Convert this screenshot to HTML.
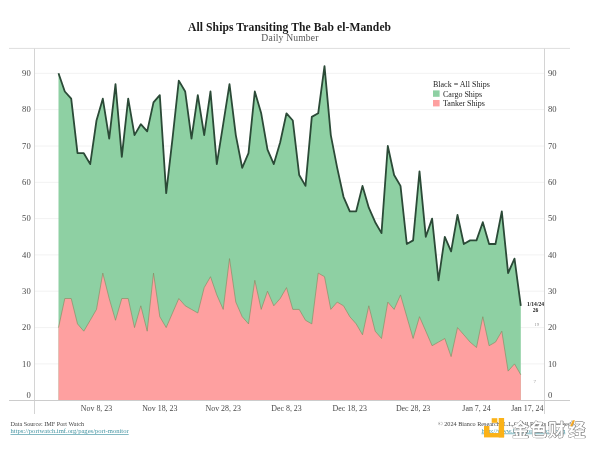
<!DOCTYPE html>
<html><head><meta charset="utf-8"><title>All Ships Transiting The Bab el-Mandeb</title>
<style>
html,body{margin:0;padding:0;background:#fff;}
body{width:600px;height:450px;overflow:hidden;position:relative;font-family:"Liberation Serif","Noto Serif CJK SC",serif;}
svg{position:absolute;left:0;top:0;}
text{font-family:"Liberation Serif","Noto Serif CJK SC",serif;}
.ax{font-size:7.9px;fill:#4a4a4a;}
.ay{font-size:8.6px;fill:#4a4a4a;}
.ttl{font-size:11.6px;font-weight:bold;fill:#1a1a1a;letter-spacing:0.08px;}
.sub{font-size:9.6px;fill:#555;letter-spacing:0.18px;}
.lg{font-size:8px;fill:#262626;}
.ft{font-size:6.2px;fill:#444;}
.lnk{font-size:6.6px;fill:#4595a3;text-decoration:underline;}
.tiny{font-size:5.6px;fill:#222;font-weight:bold;}
.tiny2{font-size:5px;fill:#9a9a9a;}
.wm{font-family:"Liberation Sans","Noto Sans CJK SC",sans-serif;font-size:17px;font-weight:bold;letter-spacing:1px;}
</style></head><body>
<svg width="600" height="450" viewBox="0 0 600 450">
<rect width="600" height="450" fill="#fff"/>
<text x="289.6" y="31.2" text-anchor="middle" class="ttl">All Ships Transiting The Bab el-Mandeb</text>
<text x="290" y="41.4" text-anchor="middle" class="sub" >Daily Number</text>
<line x1="9" x2="570" y1="48.4" y2="48.4" stroke="#dedede"/>
<line x1="34.5" x2="544.5" y1="363.9" y2="363.9" stroke="#f2f2f2" stroke-width="1"/><line x1="34.5" x2="544.5" y1="327.6" y2="327.6" stroke="#f2f2f2" stroke-width="1"/><line x1="34.5" x2="544.5" y1="291.2" y2="291.2" stroke="#f2f2f2" stroke-width="1"/><line x1="34.5" x2="544.5" y1="254.9" y2="254.9" stroke="#f2f2f2" stroke-width="1"/><line x1="34.5" x2="544.5" y1="218.6" y2="218.6" stroke="#f2f2f2" stroke-width="1"/><line x1="34.5" x2="544.5" y1="182.3" y2="182.3" stroke="#f2f2f2" stroke-width="1"/><line x1="34.5" x2="544.5" y1="146.0" y2="146.0" stroke="#f2f2f2" stroke-width="1"/><line x1="34.5" x2="544.5" y1="109.6" y2="109.6" stroke="#f2f2f2" stroke-width="1"/><line x1="34.5" x2="544.5" y1="73.3" y2="73.3" stroke="#f2f2f2" stroke-width="1"/>
<polygon points="58.5,400.2 58.5,73.3 64.8,91.5 71.2,98.7 77.5,153.2 83.8,153.2 90.2,164.1 96.5,120.5 102.8,98.7 109.2,138.7 115.5,84.2 121.8,156.9 128.2,98.7 134.5,135.1 140.8,124.2 147.2,131.4 153.5,102.4 159.8,95.1 166.2,193.2 172.5,138.7 178.8,80.6 185.2,91.5 191.5,138.7 197.8,95.1 204.2,135.1 210.5,91.5 216.8,164.1 223.2,124.2 229.5,84.2 235.8,135.1 242.2,167.8 248.5,153.2 254.8,91.5 261.2,113.3 267.5,149.6 273.8,164.1 280.2,142.3 286.5,113.3 292.8,120.5 299.2,175.0 305.5,185.9 311.8,116.9 318.2,113.3 324.5,66.1 330.8,135.1 337.2,167.8 343.5,196.8 349.8,211.3 356.2,211.3 362.5,185.9 368.8,207.7 375.2,222.2 381.5,233.1 387.8,146.0 394.1,175.0 400.5,185.9 406.8,244.0 413.1,240.4 419.5,171.4 425.8,236.8 432.1,218.6 438.5,280.3 444.8,236.8 451.1,251.3 457.5,215.0 463.8,244.0 470.1,240.4 476.5,240.4 482.8,222.2 489.1,244.0 495.5,244.0 501.8,211.3 508.1,273.1 514.5,258.6 520.8,305.8 520.8,400.2" fill="#8ed0a3"/>
<polygon points="58.5,400.2 58.5,327.6 64.8,298.5 71.2,298.5 77.5,323.9 83.8,331.2 90.2,320.3 96.5,309.4 102.8,273.1 109.2,298.5 115.5,320.3 121.8,298.5 128.2,298.5 134.5,327.6 140.8,305.8 147.2,331.2 153.5,273.1 159.8,316.7 166.2,327.6 172.5,313.0 178.8,298.5 185.2,305.8 191.5,309.4 197.8,313.0 204.2,287.6 210.5,276.7 216.8,294.9 223.2,309.4 229.5,258.6 235.8,302.1 242.2,316.7 248.5,323.9 254.8,280.3 261.2,309.4 267.5,291.2 273.8,305.8 280.2,298.5 286.5,287.6 292.8,309.4 299.2,309.4 305.5,320.3 311.8,323.9 318.2,273.1 324.5,276.7 330.8,309.4 337.2,302.1 343.5,305.8 349.8,316.7 356.2,323.9 362.5,334.8 368.8,305.8 375.2,331.2 381.5,338.5 387.8,302.1 394.1,309.4 400.5,294.9 406.8,316.7 413.1,338.5 419.5,316.7 425.8,331.2 432.1,345.7 438.5,342.1 444.8,338.5 451.1,356.6 457.5,327.6 463.8,334.8 470.1,342.1 476.5,347.5 482.8,316.7 489.1,345.7 495.5,342.1 501.8,331.2 508.1,371.1 514.5,363.9 520.8,374.8 520.8,400.2" fill="#fea0a0"/>
<polyline points="58.5,327.6 64.8,298.5 71.2,298.5 77.5,323.9 83.8,331.2 90.2,320.3 96.5,309.4 102.8,273.1 109.2,298.5 115.5,320.3 121.8,298.5 128.2,298.5 134.5,327.6 140.8,305.8 147.2,331.2 153.5,273.1 159.8,316.7 166.2,327.6 172.5,313.0 178.8,298.5 185.2,305.8 191.5,309.4 197.8,313.0 204.2,287.6 210.5,276.7 216.8,294.9 223.2,309.4 229.5,258.6 235.8,302.1 242.2,316.7 248.5,323.9 254.8,280.3 261.2,309.4 267.5,291.2 273.8,305.8 280.2,298.5 286.5,287.6 292.8,309.4 299.2,309.4 305.5,320.3 311.8,323.9 318.2,273.1 324.5,276.7 330.8,309.4 337.2,302.1 343.5,305.8 349.8,316.7 356.2,323.9 362.5,334.8 368.8,305.8 375.2,331.2 381.5,338.5 387.8,302.1 394.1,309.4 400.5,294.9 406.8,316.7 413.1,338.5 419.5,316.7 425.8,331.2 432.1,345.7 438.5,342.1 444.8,338.5 451.1,356.6 457.5,327.6 463.8,334.8 470.1,342.1 476.5,347.5 482.8,316.7 489.1,345.7 495.5,342.1 501.8,331.2 508.1,371.1 514.5,363.9 520.8,374.8" fill="none" stroke="#7d8a5e" stroke-width="0.6" stroke-linejoin="round"/>
<polyline points="58.5,73.3 64.8,91.5 71.2,98.7 77.5,153.2 83.8,153.2 90.2,164.1 96.5,120.5 102.8,98.7 109.2,138.7 115.5,84.2 121.8,156.9 128.2,98.7 134.5,135.1 140.8,124.2 147.2,131.4 153.5,102.4 159.8,95.1 166.2,193.2 172.5,138.7 178.8,80.6 185.2,91.5 191.5,138.7 197.8,95.1 204.2,135.1 210.5,91.5 216.8,164.1 223.2,124.2 229.5,84.2 235.8,135.1 242.2,167.8 248.5,153.2 254.8,91.5 261.2,113.3 267.5,149.6 273.8,164.1 280.2,142.3 286.5,113.3 292.8,120.5 299.2,175.0 305.5,185.9 311.8,116.9 318.2,113.3 324.5,66.1 330.8,135.1 337.2,167.8 343.5,196.8 349.8,211.3 356.2,211.3 362.5,185.9 368.8,207.7 375.2,222.2 381.5,233.1 387.8,146.0 394.1,175.0 400.5,185.9 406.8,244.0 413.1,240.4 419.5,171.4 425.8,236.8 432.1,218.6 438.5,280.3 444.8,236.8 451.1,251.3 457.5,215.0 463.8,244.0 470.1,240.4 476.5,240.4 482.8,222.2 489.1,244.0 495.5,244.0 501.8,211.3 508.1,273.1 514.5,258.6 520.8,305.8" fill="none" stroke="#2b4a37" stroke-width="1.8" stroke-linejoin="round" stroke-linecap="butt"/>
<line x1="34.5" x2="34.5" y1="48.5" y2="414" stroke="#d4d4d4"/>
<line x1="544.5" x2="544.5" y1="48.5" y2="414" stroke="#d4d4d4"/>
<line x1="9" x2="570" y1="400.5" y2="400.5" stroke="#cccccc"/>
<text x="30.7" y="397.8" text-anchor="end" class="ay">0</text><text x="548" y="397.8" class="ay">0</text><text x="30.7" y="366.5" text-anchor="end" class="ay">10</text><text x="548" y="366.5" class="ay">10</text><text x="30.7" y="330.2" text-anchor="end" class="ay">20</text><text x="548" y="330.2" class="ay">20</text><text x="30.7" y="293.8" text-anchor="end" class="ay">30</text><text x="548" y="293.8" class="ay">30</text><text x="30.7" y="257.5" text-anchor="end" class="ay">40</text><text x="548" y="257.5" class="ay">40</text><text x="30.7" y="221.2" text-anchor="end" class="ay">50</text><text x="548" y="221.2" class="ay">50</text><text x="30.7" y="184.9" text-anchor="end" class="ay">60</text><text x="548" y="184.9" class="ay">60</text><text x="30.7" y="148.6" text-anchor="end" class="ay">70</text><text x="548" y="148.6" class="ay">70</text><text x="30.7" y="112.2" text-anchor="end" class="ay">80</text><text x="548" y="112.2" class="ay">80</text><text x="30.7" y="75.9" text-anchor="end" class="ay">90</text><text x="548" y="75.9" class="ay">90</text>
<text x="96.5" y="411" text-anchor="middle" class="ax">Nov 8, 23</text><text x="159.8" y="411" text-anchor="middle" class="ax">Nov 18, 23</text><text x="223.2" y="411" text-anchor="middle" class="ax">Nov 28, 23</text><text x="286.5" y="411" text-anchor="middle" class="ax">Dec 8, 23</text><text x="349.8" y="411" text-anchor="middle" class="ax">Dec 18, 23</text><text x="413.1" y="411" text-anchor="middle" class="ax">Dec 28, 23</text><text x="476.5" y="411" text-anchor="middle" class="ax">Jan 7, 24</text><text x="543.5" y="411" text-anchor="end" class="ax">Jan 17, 24</text>
<text x="433" y="87.2" class="lg">Black = All Ships</text>
<rect x="433" y="90.4" width="6.6" height="6.4" fill="#8ed0a3"/>
<text x="443" y="96.8" class="lg">Cargo Ships</text>
<rect x="433" y="100" width="6.6" height="6.4" fill="#fea0a0"/>
<text x="443" y="106.2" class="lg">Tanker Ships</text>
<text x="535.5" y="306" text-anchor="middle" class="tiny">1/14/24</text>
<text x="535.5" y="311.5" text-anchor="middle" class="tiny">26</text>
<text x="536.8" y="325.5" text-anchor="middle" class="tiny2">19</text>
<text x="534.7" y="383" text-anchor="middle" class="tiny2">7</text>
<text x="10.5" y="426.2" class="ft">Data Source: IMF Port Watch</text>
<text x="10.5" y="433.2" class="lnk">https://portwatch.imf.org/pages/port-monitor</text>
<text x="438" y="426.2" class="ft">© 2024 Bianco Research, L.L.C. All Rights Reserved</text>
<text x="481.5" y="432.5" class="lnk">http://www.biancoresearch.com</text>
<g>
<rect x="498.7" y="418" width="5.4" height="19.4" fill="#fbb218"/>
<rect x="484" y="433" width="20.1" height="4.4" fill="#fbb218"/>
<rect x="491.7" y="418.2" width="5.6" height="4.6" fill="#fbb218"/>
<rect x="484" y="426" width="5.4" height="5.4" fill="#fbb218"/>
<rect x="484" y="431" width="5.4" height="2.5" fill="#fbb218"/>
<text x="512.5" y="436.1" class="wm" fill="#777" stroke="#777" stroke-width="0.3">金色财<tspan dx="2.2">经</tspan></text>
<text x="512" y="435.6" class="wm" fill="#ffffff" stroke="#808080" stroke-width="0.8" paint-order="stroke">金色财<tspan dx="2.2">经</tspan></text>
<polygon points="572.8,420.3 575,420.3 572.2,426.3 570,426.3" fill="#f6a823"/>
</g>
</svg>
</body></html>
